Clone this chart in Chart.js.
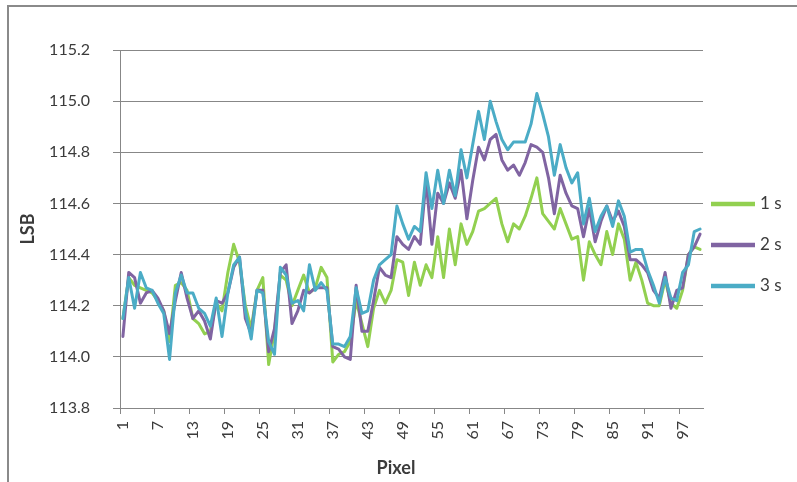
<!DOCTYPE html>
<html>
<head>
<meta charset="utf-8">
<script src="https://cdn.jsdelivr.net/npm/chart.js@4/dist/chart.umd.min.js"></script>
<style>
html,body{margin:0;padding:0;background:#fff;overflow:hidden;}
#wrap{position:relative;width:797px;height:482px;overflow:hidden;}
#frame{position:absolute;left:7px;top:5px;width:900px;height:600px;border:2px solid #8a8a8a;box-sizing:border-box;}
canvas{position:absolute;left:0;top:0;}
</style>
</head>
<body>
<div id="wrap"><div id="frame"></div><canvas id="c" width="797" height="482"></canvas></div>
<script>
// ---- data ----
const pixels = [1,2,3,4,5,6,7,8,9,10,11,12,13,14,15,16,17,18,19,20,21,22,23,24,25,26,27,28,29,30,31,32,33,34,35,36,37,38,39,40,41,42,43,44,45,46,47,48,49,50,51,52,53,54,55,56,57,58,59,60,61,62,63,64,65,66,67,68,69,70,71,72,73,74,75,76,77,78,79,80,81,82,83,84,85,86,87,88,89,90,91,92,93,94,95,96,97,98,99,100];
const xTickLabels = ['1','7','13','19','25','31','37','43','49','55','61','67','73','79','85','91','97'];
const yTickValues = [113.8,114.0,114.2,114.4,114.6,114.8,115.0,115.2];
const seriesNames = ['1 s','2 s','3 s'];

const lsb1s = [114.15,114.31,114.28,114.27,114.26,114.25,114.22,114.18,114.06,114.28,
114.29,114.26,114.15,114.13,114.09,114.10,114.21,114.18,114.33,114.44,
114.37,114.20,114.11,114.26,114.31,113.97,114.10,114.32,114.30,114.20,
114.26,114.32,114.25,114.27,114.35,114.31,113.98,114.01,114.02,114.06,
114.22,114.13,114.04,114.19,114.26,114.21,114.26,114.38,114.37,114.24,
114.37,114.28,114.36,114.31,114.47,114.31,114.50,114.36,114.52,114.44,
114.49,114.57,114.58,114.60,114.62,114.52,114.45,114.52,114.50,114.55,
114.62,114.70,114.56,114.53,114.50,114.58,114.52,114.46,114.47,114.30,
114.45,114.40,114.36,114.49,114.40,114.52,114.46,114.30,114.37,114.30,
114.21,114.20,114.20,114.30,114.21,114.19,114.26,114.40,114.43,114.42];

const lsb2s = [114.08,114.33,114.31,114.21,114.25,114.26,114.23,114.18,114.09,114.22,
114.33,114.23,114.15,114.18,114.14,114.07,114.22,114.21,114.25,114.35,
114.39,114.15,114.09,114.26,114.26,114.02,114.11,114.33,114.36,114.13,
114.18,114.26,114.25,114.27,114.27,114.27,114.04,114.03,114.00,113.99,
114.28,114.10,114.10,114.22,114.35,114.32,114.31,114.47,114.44,114.42,
114.47,114.44,114.69,114.44,114.64,114.60,114.68,114.62,114.73,114.54,
114.69,114.82,114.77,114.85,114.87,114.77,114.73,114.75,114.71,114.76,
114.83,114.82,114.80,114.70,114.56,114.71,114.64,114.59,114.58,114.47,
114.58,114.45,114.53,114.59,114.53,114.57,114.51,114.38,114.38,114.36,
114.33,114.26,114.23,114.33,114.19,114.26,114.27,114.40,114.43,114.48];

const lsb3s = [114.15,114.31,114.19,114.33,114.27,114.26,114.21,114.17,113.99,114.25,
114.32,114.25,114.25,114.19,114.17,114.12,114.23,114.08,114.25,114.36,
114.39,114.18,114.07,114.26,114.25,114.06,114.01,114.35,114.32,114.21,
114.22,114.18,114.36,114.26,114.29,114.26,114.05,114.05,114.04,114.08,
114.27,114.17,114.18,114.30,114.36,114.38,114.40,114.59,114.52,114.46,
114.51,114.49,114.72,114.58,114.73,114.60,114.73,114.63,114.81,114.70,
114.83,114.96,114.85,115.00,114.92,114.85,114.81,114.84,114.84,114.84,
114.91,115.03,114.95,114.86,114.71,114.83,114.74,114.68,114.72,114.52,
114.62,114.49,114.55,114.59,114.51,114.61,114.55,114.41,114.42,114.42,
114.34,114.28,114.21,114.31,114.23,114.22,114.33,114.36,114.49,114.50];

// ---- styles ----
const FONT = 'Lato, "Open Sans", sans-serif';
const TEXT = '#3b3b3b';
const GRID = '#878787';
const colors = ['#92D050', '#8064A2', '#4BACC6'];

const sideLegend = {
  id: 'sideLegend',
  afterDraw(chart, args, opts) {
    const ctx = chart.ctx;
    ctx.save();
    chart.data.datasets.forEach((ds, i) => {
      const y = opts.top + i * opts.spacing;
      ctx.strokeStyle = ds.borderColor;
      ctx.lineWidth = opts.lineWidth;
      ctx.lineCap = 'butt';
      ctx.beginPath();
      ctx.moveTo(opts.x, y);
      ctx.lineTo(opts.x + opts.length, y);
      ctx.stroke();
      ctx.fillStyle = TEXT;
      ctx.font = opts.font;
      ctx.textBaseline = 'middle';
      ctx.textAlign = 'left';
      ctx.fillText(ds.label, opts.x + opts.length + opts.gap, y);
    });
    ctx.restore();
  }
};

const xTitle = {
  id: 'xTitle',
  afterDraw(chart, args, opts) {
    const ctx = chart.ctx;
    ctx.save();
    ctx.fillStyle = TEXT;
    ctx.font = opts.font;
    ctx.textAlign = 'center';
    ctx.textBaseline = 'middle';
    ctx.fillText(opts.text, opts.x, opts.y);
    ctx.restore();
  }
};

const datasets = [lsb1s, lsb2s, lsb3s].map((vals, i) => ({
  label: seriesNames[i],
  data: vals,
  borderColor: colors[i],
  backgroundColor: colors[i],
  borderWidth: 3,
  pointRadius: 0,
  tension: 0,
  fill: false,
  borderJoinStyle: 'round',
  borderCapStyle: 'round',
  order: 2 - i
}));

new Chart(document.getElementById('c'), {
  type: 'line',
  data: { labels: pixels.map(String), datasets },
  plugins: [sideLegend, xTitle],
  options: {
    responsive: false,
    animation: false,
    devicePixelRatio: 1,
    layout: { padding: { left: 0, right: 94, top: 50, bottom: 0 } },
    plugins: {
      legend: { display: false },
      tooltip: { enabled: false },
      sideLegend: { x: 711, length: 44, gap: 5, top: 204, spacing: 41, lineWidth: 4.5, font: '17px ' + FONT },
      xTitle: { text: 'Pixel', x: 396, y: 468, font: 'bold 18px ' + FONT }
    },
    scales: {
      x: {
        type: 'category',
        offset: true,
        grid: {
          display: true,
          drawOnChartArea: false,
          drawTicks: true,
          tickLength: 6,
          offset: true,
          color: (c) => (c.index % 6 === 0 ? GRID : 'rgba(0,0,0,0)')
        },
        border: { display: true, color: GRID, width: 1 },
        ticks: {
          autoSkip: false,
          minRotation: 90,
          maxRotation: 90,
          padding: 7,
          color: TEXT,
          font: { family: FONT, size: 16 },
          callback: function (value, index) {
            const lbl = String(pixels[index]);
            return xTickLabels.includes(lbl) ? lbl : '';
          }
        },
        afterFit: (s) => { s.height = 74; }
      },
      y: {
        min: 113.8,
        max: 115.2,
        afterBuildTicks: (axis) => { axis.ticks = yTickValues.map(v => ({ value: v })); },
        grid: { color: GRID, lineWidth: 1, drawTicks: true, tickLength: 7 },
        border: { display: true, color: GRID, width: 1 },
        ticks: {
          padding: 23,
          color: TEXT,
          font: { family: FONT, size: 16 },
          callback: (v) => Number(v).toFixed(1)
        },
        title: {
          display: true,
          text: 'LSB',
          color: TEXT,
          font: { family: FONT, size: 18, weight: 'bold' },
          padding: { top: 17, bottom: 0 }
        },
        afterFit: (s) => { s.width = 120; }
      }
    }
  }
});
</script>
</body>
</html>
